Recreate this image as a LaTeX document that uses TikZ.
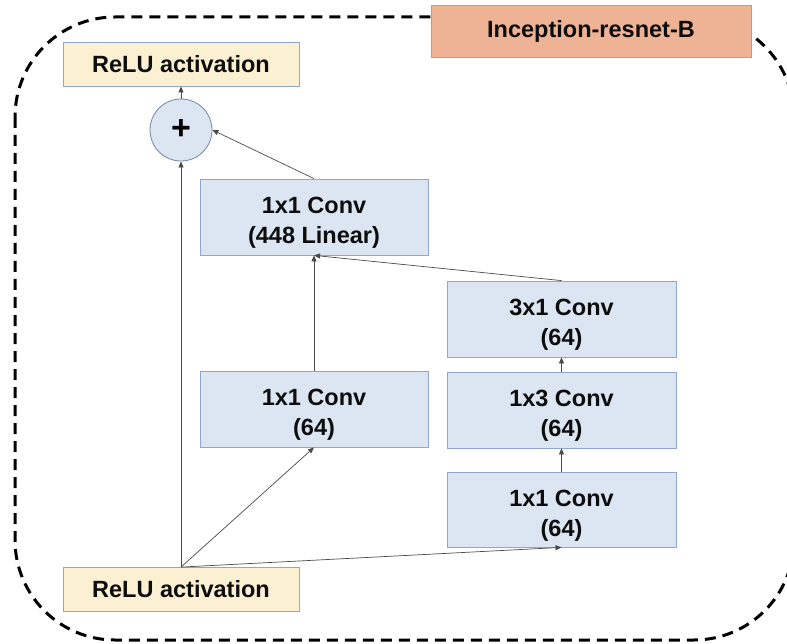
\documentclass[tikz,border=0pt]{standalone}
\usepackage{fontspec}
\setmainfont{Liberation Sans}
\usetikzlibrary{arrows.meta}
\definecolor{convfill}{HTML}{DCE6F2}
\definecolor{relufill}{HTML}{FBF1D2}
\definecolor{titlefill}{HTML}{EEB394}
\definecolor{boxline}{HTML}{8EA7CC}
\definecolor{linkgray}{HTML}{4A4A4A}
\begin{document}
\begin{tikzpicture}[x=1pt,y=-1pt,
  box/.style={draw=boxline, line width=0.8pt, align=center, inner sep=0pt,
    font=\fontsize{23.5}{30}\selectfont\bfseries, text=black!95},
  conv/.style={box, fill=convfill, minimum width=228pt, minimum height=76pt, text height=58pt},
  relu/.style={box, fill=relufill, minimum width=236pt, minimum height=44pt},
  titlebox/.style={box, fill=titlefill, minimum width=320pt, minimum height=52pt},
  sumnode/.style={circle, draw=boxline!80!black, fill=convfill, line width=0.8pt,
    minimum size=62pt, inner sep=0pt, font=\fontsize{34}{34}\selectfont\bfseries},
  link/.style={draw=linkgray, line width=0.7pt, -{Triangle[length=6pt,width=5pt]}},
  frame/.style={line width=3pt, dash pattern=on 11pt off 7pt, rounded corners=100pt}]
  \useasboundingbox (0,0) rectangle (787,644);

  % dashed module outline
  \draw[frame] (15,17) rectangle (794,640);

  % module title
  \node[titlebox] (title) at (591,31) {Inception-resnet-B};

  % input / output activations and residual sum
  \node[relu] (reluTop) at (181,64) {ReLU activation};
  \node[relu] (reluBot) at (181,589.5) {ReLU activation};
  \node[sumnode] (plus) at (181,130) {+};

  % convolution branches
  \node[conv] (convL) at (314,217) {1x1 Conv\\(448 Linear)};
  \node[conv] (convM) at (314,409) {1x1 Conv\\(64)};
  \node[conv, minimum width=229pt] (c31) at (561.5,319) {3x1 Conv\\(64)};
  \node[conv, minimum width=229pt] (c13) at (561.5,410) {1x3 Conv\\(64)};
  \node[conv, minimum width=229pt, minimum height=75pt] (c11) at (561.5,509.5) {1x1 Conv\\(64)};

  % connections
  \draw[link] (reluBot.north) -- (plus.south);
  \draw[link] (reluBot.north) -- (convM.south);
  \draw[link] (reluBot.north) -- (c11.south);
  \draw[link] (c11.north) -- (c13.south);
  \draw[link] (c13.north) -- (c31.south);
  \draw[link] (convM.north) -- (convL.south);
  \draw[link] (c31.north) -- (convL.south);
  \draw[link] (convL.north) -- (plus.east);
  \draw[link] (plus.north) -- (reluTop.south);
\end{tikzpicture}
\end{document}
